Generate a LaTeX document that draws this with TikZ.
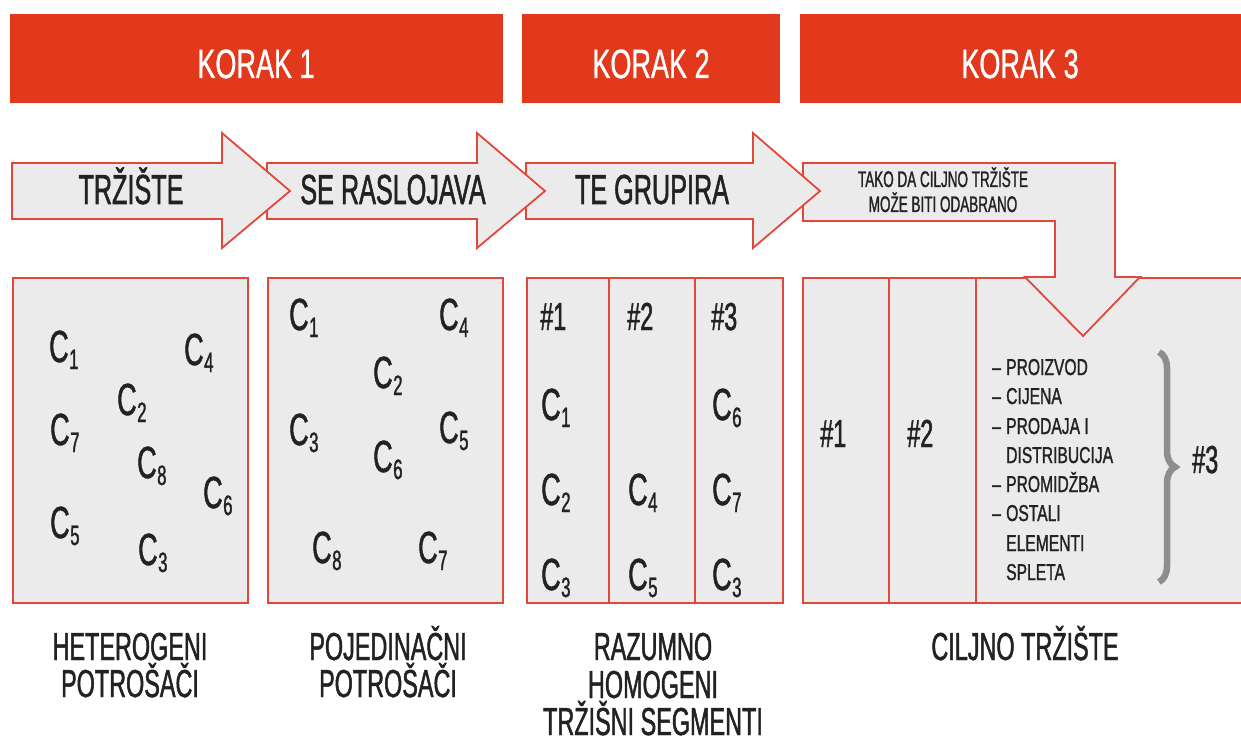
\documentclass[tikz,border=0pt]{standalone}
\usepackage{fontspec}
\setmainfont{Liberation Sans}
\newfontfamily\cf[FakeStretch=0.6,FakeBold=1.2]{Liberation Sans}
\newfontfamily\cfw[FakeStretch=0.68,FakeBold=1.2]{Liberation Sans}
\newfontfamily\cfh[FakeStretch=0.66,FakeBold=0.8]{Liberation Sans}
\usetikzlibrary{decorations.pathreplacing}
\definecolor{hdr}{HTML}{E2391C}
\definecolor{edge}{HTML}{E0483A}
\definecolor{panel}{HTML}{EBEBEB}
\definecolor{ink}{HTML}{222222}
\definecolor{brc}{HTML}{8E8E8E}
\newcommand{\Cs}[1]{C\kern0.5pt\raisebox{-7pt}{\fontsize{28}{28}\selectfont #1}}
\begin{document}
\begin{tikzpicture}[x=1pt,y=-1pt,
  hdrbox/.style={rectangle,fill=hdr,draw=none,inner sep=0pt},
  hdrtxt/.style={anchor=base,text=white,font=\cfh\fontsize{41}{41}\selectfont,inner sep=0pt},
  panelbox/.style={rectangle,fill=panel,draw=edge,line width=1.8pt,inner sep=0pt,minimum height=325pt},
  arr/.style={fill=panel,draw=edge,line width=1.8pt,line join=miter},
  arrtxt/.style={anchor=base,text=ink,font=\cf\fontsize{42}{42}\selectfont,inner sep=0pt},
  ctxt/.style={anchor=base west,text=ink,font=\cf\fontsize{45}{45}\selectfont,inner sep=0pt},
  htxt/.style={anchor=base west,text=ink,font=\cf\fontsize{39}{39}\selectfont,inner sep=0pt},
  ltxt/.style={anchor=base west,text=ink,font=\cfw\fontsize{23}{23}\selectfont,inner sep=0pt},
  btxt/.style={anchor=base,text=ink,font=\cf\fontsize{39}{39}\selectfont,inner sep=0pt},
  divider/.style={draw=edge,line width=1.8pt}]
\useasboundingbox (0,0) rectangle (1241,743);
\fill[white] (0,0) rectangle (1241,743);

% headers
\node[hdrbox,minimum width=493pt,minimum height=89pt] (k1) at (256.5,58.5) {};
\node[hdrbox,minimum width=258pt,minimum height=89pt] (k2) at (651,58.5) {};
\node[hdrbox,minimum width=450pt,minimum height=89pt] (k3) at (1025,58.5) {};
\node[hdrtxt] (k1t) at (256,78) {KORAK 1};
\node[hdrtxt] (k2t) at (651,78) {KORAK 2};
\node[hdrtxt] (k3t) at (1020,78) {KORAK 3};

% panels
\node[panelbox,minimum width=235pt] (b1) at (130.5,440.5) {};
\node[panelbox,minimum width=235pt] (b2) at (385.5,440.5) {};
\node[panelbox,minimum width=256pt] (b3) at (655,440.5) {};
\node[panelbox,minimum width=447pt] (b4) at (1026.5,440.5) {};
\draw[divider] (b3.north west) ++(83,0) -- ++(0,325);
\draw[divider] (b3.north west) ++(169,0) -- ++(0,325);
\draw[divider] (b4.north west) ++(87,0) -- ++(0,325);
\draw[divider] (b4.north west) ++(174,0) -- ++(0,325);

% bent arrow
\draw[arr] (803,163) -- (1115,163) -- (1115,277) -- (1140,277) -- (1083,336)
  -- (1025,277) -- (1055,277) -- (1055,221) -- (803,221) -- cycle;
% straight arrows (drawn right to left so heads overlap)
\draw[arr] (526,163) -- (753,163) -- (753,133) -- (820,191) -- (753,248) -- (753,219) -- (526,219) -- cycle;
\draw[arr] (267,163) -- (477,163) -- (477,133) -- (545,191) -- (477,248) -- (477,219) -- (267,219) -- cycle;
\draw[arr] (12,163) -- (222,163) -- (222,133) -- (290,191) -- (222,248) -- (222,219) -- (12,219) -- cycle;

\node[arrtxt] (a1) at (131,204) {TRŽIŠTE};
\node[arrtxt] (a2) at (393,204) {SE RASLOJAVA};
\node[arrtxt] (a3) at (652,204) {TE GRUPIRA};
\node[anchor=base,text=ink,font=\cf\fontsize{22.5}{22.5}\selectfont,inner sep=0pt] (a4a) at (943,187) {TAKO DA CILJNO TRŽIŠTE};
\node[anchor=base,text=ink,font=\cf\fontsize{22.5}{22.5}\selectfont,inner sep=0pt] (a4b) at (943,212) {MOŽE BITI ODABRANO};

% box 1
\node[ctxt] (p1c1) at (49,362) {\Cs{1}};
\node[ctxt] (p1c4) at (184,365) {\Cs{4}};
\node[ctxt] (p1c2) at (117,415) {\Cs{2}};
\node[ctxt] (p1c7) at (50,445) {\Cs{7}};
\node[ctxt] (p1c8) at (137,478) {\Cs{8}};
\node[ctxt] (p1c6) at (203,508) {\Cs{6}};
\node[ctxt] (p1c5) at (50,538) {\Cs{5}};
\node[ctxt] (p1c3) at (138,565) {\Cs{3}};

% box 2
\node[ctxt] (p2c1) at (289,330) {\Cs{1}};
\node[ctxt] (p2c4) at (439,330) {\Cs{4}};
\node[ctxt] (p2c2) at (373,388) {\Cs{2}};
\node[ctxt] (p2c3) at (289,445) {\Cs{3}};
\node[ctxt] (p2c5) at (439,443) {\Cs{5}};
\node[ctxt] (p2c6) at (373,472) {\Cs{6}};
\node[ctxt] (p2c8) at (312,563) {\Cs{8}};
\node[ctxt] (p2c7) at (418,563) {\Cs{7}};

% box 3
\node[htxt] (p3h1) at (540,330) {\#1};
\node[htxt] (p3h2) at (627,330) {\#2};
\node[htxt] (p3h3) at (711,330) {\#3};
\node[ctxt] (p3c1) at (541,420) {\Cs{1}};
\node[ctxt] (p3c2) at (541,505) {\Cs{2}};
\node[ctxt] (p3c3) at (541,590) {\Cs{3}};
\node[ctxt] (p3c4) at (628,505) {\Cs{4}};
\node[ctxt] (p3c5) at (628,590) {\Cs{5}};
\node[ctxt] (p3c6) at (712,420) {\Cs{6}};
\node[ctxt] (p3c7) at (712,505) {\Cs{7}};
\node[ctxt] (p3c3b) at (712,590) {\Cs{3}};

% box 4
\node[htxt] (p4h1) at (820,447) {\#1};
\node[htxt] (p4h2) at (907,447) {\#2};
\node[htxt] (p4h3) at (1192,473) {\#3};
\node[ltxt] (d1) at (992,375) {–};
\node[ltxt] (l1) at (1006,375) {PROIZVOD};
\node[ltxt] (d2) at (992,404) {–};
\node[ltxt] (l2) at (1006,404) {CIJENA};
\node[ltxt] (d3) at (992,434) {–};
\node[ltxt] (l3) at (1006,434) {PRODAJA I};
\node[ltxt] (l4) at (1006,463) {DISTRIBUCIJA};
\node[ltxt] (d5) at (992,492) {–};
\node[ltxt] (l5) at (1006,492) {PROMIDŽBA};
\node[ltxt] (d6) at (992,521) {–};
\node[ltxt] (l6) at (1006,521) {OSTALI};
\node[ltxt] (l7) at (1006,551) {ELEMENTI};
\node[ltxt] (l8) at (1006,580) {SPLETA};
\coordinate (brtop) at (1159,352);
\coordinate (brbot) at (1159,582);
\draw[brc,line width=6.5pt,decorate,decoration={brace,amplitude=16pt}] (brtop) -- (brbot);

% bottom labels
\node[btxt] (t1a) at (130,660) {HETEROGENI};
\node[btxt] (t1b) at (130,697) {POTROŠAČI};
\node[btxt] (t2a) at (388,660) {POJEDINAČNI};
\node[btxt] (t2b) at (388,697) {POTROŠAČI};
\node[btxt] (t3a) at (653,660) {RAZUMNO};
\node[btxt] (t3b) at (653,698) {HOMOGENI};
\node[btxt] (t3c) at (653,735) {TRŽIŠNI SEGMENTI};
\node[btxt] (t4a) at (1025,660) {CILJNO TRŽIŠTE};
\end{tikzpicture}
\end{document}
